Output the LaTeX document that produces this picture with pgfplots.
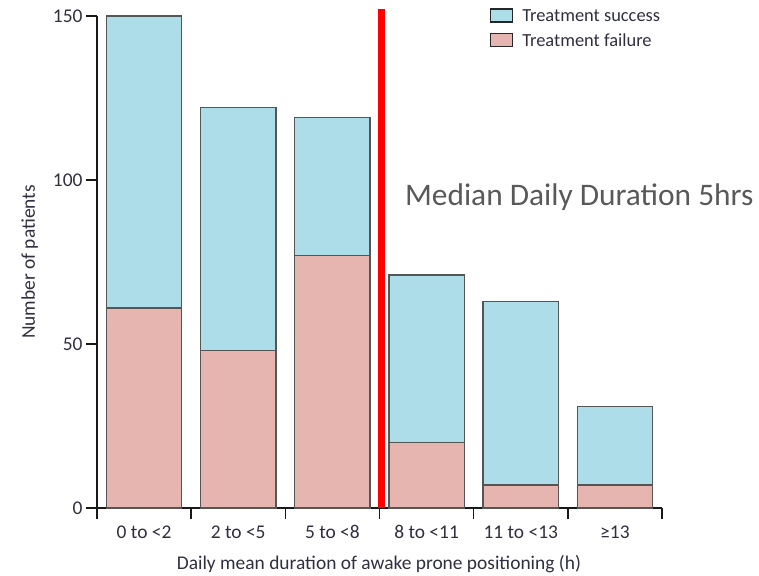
\documentclass[border=0pt]{standalone}
\usepackage{fontspec}
\setmainfont{Carlito}
\usepackage{pgfplots}
\pgfplotsset{compat=1.18}
\definecolor{succ}{HTML}{AEDDEA}
\definecolor{fail}{HTML}{E6B5B0}
\definecolor{edge}{HTML}{555555}
\definecolor{annot}{HTML}{595959}
\definecolor{txt}{HTML}{2F2F3F}
\begin{document}
\begin{tikzpicture}
\begin{axis}[
  scale only axis, width=565bp, height=492bp,
  ybar stacked, bar width=0.8,
  xmin=-0.5, xmax=5.5, ymin=0, ymax=150,
  axis x line*=bottom, axis y line*=left,
  axis line style={line width=1.5bp, black!90},
  xtick={0,...,5},
  xticklabels={0 to <2, 2 to <5, 5 to <8, 8 to <11, 11 to <13, ≥13},
  x tick style={draw=none},
  minor xtick={-0.5,0.5,...,5.5},
  minor x tick style={draw=black!90, line width=1.5bp},
  minor tick length=11bp,
  major tick length=11bp,
  tick align=outside,
  ytick={0,50,100,150},
  y tick style={line width=1.5bp, black!90},
  /pgf/number format/assume math mode=true,
  tick label style={font=\fontsize{19.5}{22}\selectfont, text=txt},
  xticklabel style={yshift=-3bp},
  xlabel={Daily mean duration of awake prone positioning (h)},
  ylabel={Number of patients},
  label style={font=\fontsize{19.5}{22}\selectfont, text=txt},
  xlabel style={at={(axis description cs:0.499,-0.113)}, anchor=center},
  ylabel style={at={(axis description cs:-0.119,0.5)}, anchor=center},
  legend style={at={(rel axis cs:0.69,1.022)}, anchor=north west, draw=none, fill=none,
    font=\fontsize{18.5}{21}\selectfont, text=txt, row sep=7bp},
  legend cell align=left,
  legend image code/.code={\draw[#1, draw=black!85, line width=1.2bp] (0bp,-6bp) rectangle (22bp,7bp); \path (29bp,0bp);},
  reverse legend,
  clip=false,
]
\addplot[fill=fail, draw=edge, line width=1.3bp] coordinates {(0,61) (1,48) (2,77) (3,20) (4,7) (5,7)};
\addplot[fill=succ, draw=edge, line width=1.3bp] coordinates {(0,89) (1,74) (2,42) (3,51) (4,56) (5,24)};
\legend{Treatment failure, Treatment success}
\draw[red, line width=7bp] (axis cs:2.52,0) -- (axis cs:2.52,152);
\node[anchor=west, text=annot, font=\fontsize{31.5}{36}\selectfont, inner sep=0pt] at (axis cs:2.77,94.8) {Median Daily Duration 5hrs};
\end{axis}
\pgfresetboundingbox
\path (-97bp,-68bp) rectangle (662bp,508bp);
\end{tikzpicture}
\end{document}
